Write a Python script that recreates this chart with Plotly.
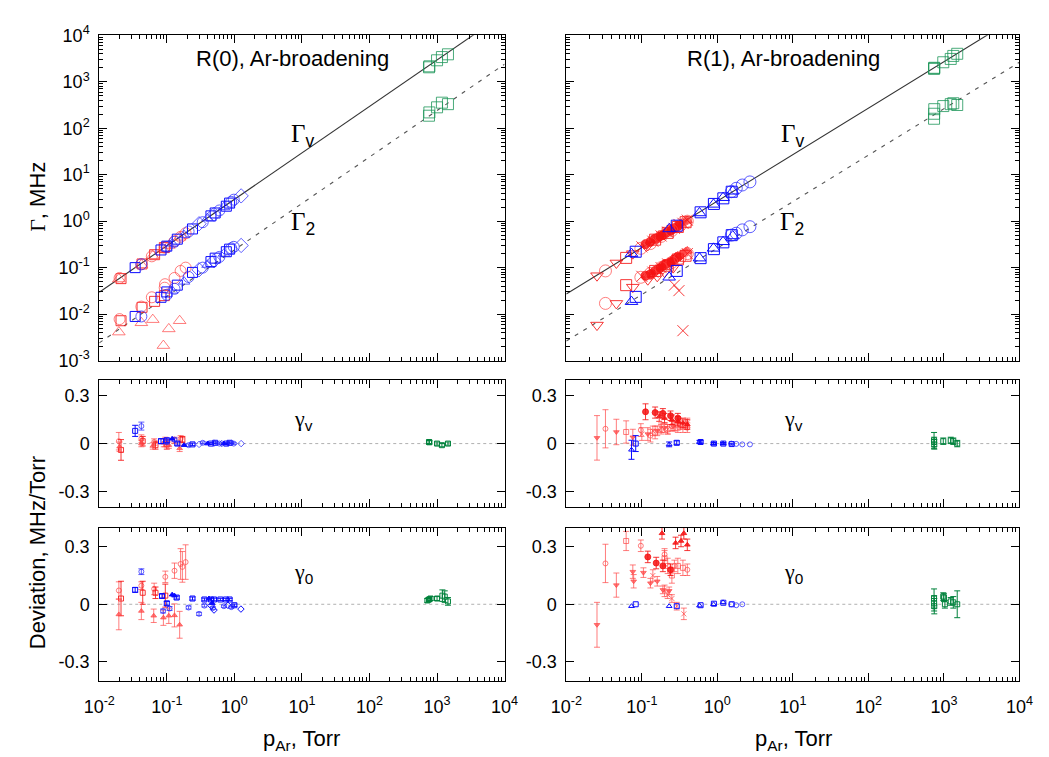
import plotly.graph_objects as go

# ================= DATA =================
# --- fitted lines: Gamma = coef * p ---
line_p = [1e-2, 1e4]
r0_coef_gv = 2.95
r0_coef_g2 = 0.24
r1_coef_gv = 2.7
r1_coef_g2 = 0.263

# --- R(0) top panel: pressure (Torr), Gamma_v, Gamma_2 (MHz) ---
r0_red_sq_p = [0.021, 0.043, 0.066, 0.092]
r0_red_sq_gv = [0.058, 0.12, 0.19, 0.27]
r0_red_sq_g2 = [0.0072, 0.014, 0.0188, 0.025]

r0_red_ci_p = [0.020, 0.042, 0.060, 0.093, 0.094, 0.13, 0.16, 0.19]
r0_red_ci_gv = [0.060, 0.118, 0.175, 0.27, 0.28, 0.37, 0.46, 0.55]
r0_red_ci_g2 = [0.0078, 0.0145, 0.023, 0.037, 0.044, 0.060, 0.085, 0.10]

r0_red_tr_p = [0.0195, 0.042, 0.062, 0.089, 0.107, 0.155]
r0_red_tr_gv = [0.057, 0.115, 0.18, 0.25, 0.30, 0.45]
r0_red_tr_g2 = [0.0041, 0.0065, 0.0076, 0.0021, 0.0048, 0.0072]

r0_blue_sq_p = [0.034, 0.082, 0.10, 0.143, 0.24, 0.45, 0.52, 0.76, 0.85]
r0_blue_sq_gv = [0.10, 0.24, 0.29, 0.41, 0.68, 1.3, 1.5, 2.1, 2.45]
r0_blue_sq_g2 = [0.0089, 0.023, 0.030, 0.042, 0.079, 0.135, 0.16, 0.22, 0.25]

r0_blue_ci_p = [0.042, 0.10, 0.13, 0.21, 0.34, 0.60, 0.90, 0.98]
r0_blue_ci_gv = [0.118, 0.28, 0.36, 0.60, 0.95, 1.7, 2.6, 2.9]
r0_blue_ci_g2 = [0.0089, 0.026, 0.035, 0.063, 0.10, 0.17, 0.26, 0.28]

r0_blue_di_p = [0.30, 0.50, 1.26]
r0_blue_di_gv = [0.88, 1.4, 3.5]
r0_blue_di_g2 = [0.09, 0.14, 0.30]

r0_blue_tr_p = [0.12, 0.18, 0.40, 0.70]
r0_blue_tr_gv = [0.33, 0.50, 1.15, 2.0]
r0_blue_tr_g2 = [0.032, 0.050, 0.115, 0.20]

r0_green_p = [760, 770, 1000, 1180, 1450]
r0_green_gv = [2050, 2150, 2900, 3400, 3900]
r0_green_g2 = [186, 219, 282, 355, 330]

# --- R(0) deviations gamma_v (MHz/Torr) ---
r0v_red_ci_p = [0.0195, 0.042, 0.065, 0.095, 0.13, 0.16]
r0v_red_ci_d = [0.015, 0.03, 0.01, 0.01, 0.02, 0.03]
r0v_red_ci_e = [0.055, 0.025, 0.02, 0.03, 0.02, 0.02]
r0v_red_sq_p = [0.021, 0.044, 0.068, 0.10, 0.17]
r0v_red_sq_d = [-0.04, 0.015, -0.01, -0.005, 0.025]
r0v_red_sq_e = [0.065, 0.03, 0.025, 0.03, 0.02]
r0v_red_tr_p = [0.020, 0.042, 0.062, 0.090, 0.107, 0.155]
r0v_red_tr_d = [-0.02, 0.0, -0.015, 0.005, -0.01, -0.03]
r0v_red_tr_e = [0.03, 0.02, 0.02, 0.025, 0.02, 0.02]
r0v_blue_sq_p = [0.034, 0.082, 0.10, 0.143, 0.24, 0.45, 0.52, 0.76, 0.85]
r0v_blue_sq_d = [0.08, 0.015, 0.02, 0.0, -0.005, 0.0, 0.005, 0.0, 0.005]
r0v_blue_sq_e = [0.035, 0.015, 0.015, 0.01, 0.008, 0.006, 0.006, 0.005, 0.005]
r0v_blue_ci_p = [0.042, 0.10, 0.13, 0.21, 0.34, 0.60, 0.90, 0.98]
r0v_blue_ci_d = [0.11, 0.01, 0.025, -0.01, 0.005, 0.0, 0.005, 0.0]
r0v_blue_ci_e = [0.025, 0.012, 0.01, 0.008, 0.006, 0.005, 0.005, 0.005]
r0v_blue_di_p = [0.30, 0.50, 0.65, 1.26]
r0v_blue_di_d = [-0.005, 0.003, 0.0, 0.0]
r0v_blue_tr_p = [0.12, 0.18, 0.40, 0.70]
r0v_blue_tr_d = [0.03, -0.01, 0.0, 0.0]
r0v_green_p = [760, 770, 1000, 1180, 1450]
r0v_green_d = [0.01, 0.008, 0.0, -0.01, 0.0]
r0v_green_e = [0.01, 0.01, 0.01, 0.01, 0.01]

# --- R(0) deviations gamma_0 ---
r00_red_ci_p = [0.0195, 0.042, 0.065, 0.095, 0.13, 0.16, 0.17, 0.19]
r00_red_ci_d = [0.072, 0.097, 0.08, 0.143, 0.175, 0.21, 0.195, 0.22]
r00_red_ci_e = [0.045, 0.02, 0.03, 0.03, 0.04, 0.08, 0.08, 0.09]
r00_red_sq_p = [0.021, 0.044, 0.068, 0.095]
r00_red_sq_d = [0.03, 0.06, 0.06, 0.045]
r00_red_sq_e = [0.09, 0.06, 0.03, 0.06]
r00_red_tr_p = [0.0195, 0.042, 0.064, 0.089, 0.107, 0.13, 0.155]
r00_red_tr_d = [-0.053, -0.035, -0.06, -0.07, -0.06, -0.058, -0.107]
r00_red_tr_e = [0.08, 0.045, 0.035, 0.04, 0.04, 0.06, 0.07]
r00_blue_sq_p = [0.034, 0.085, 0.10, 0.14, 0.24, 0.36, 0.45, 0.50, 0.62, 0.75, 0.85, 1.0]
r00_blue_sq_d = [0.075, 0.043, 0.005, 0.035, 0.03, 0.025, 0.025, 0.025, 0.025, 0.025, 0.025, -0.005]
r00_blue_sq_e = [0.012, 0.01, 0.01, 0.008, 0.008, 0.007, 0.007, 0.007, 0.006, 0.006, 0.006, 0.006]
r00_blue_ci_p = [0.042, 0.088, 0.11, 0.21, 0.30, 0.36, 0.48, 0.70, 0.90]
r00_blue_ci_d = [0.17, -0.035, -0.022, -0.017, -0.05, -0.007, -0.02, -0.01, -0.015]
r00_blue_ci_e = [0.015, 0.01, 0.01, 0.008, 0.008, 0.007, 0.007, 0.006, 0.006]
r00_blue_di_p = [0.45, 0.50, 0.80, 1.25]
r00_blue_di_d = [-0.007, -0.03, -0.005, -0.025]
r00_blue_tr_p = [0.12, 0.13, 0.42, 0.47]
r00_blue_tr_d = [0.05, 0.045, 0.03, 0.005]
r00_green_p = [720, 760, 800, 1000, 1200, 1300, 1450]
r00_green_d = [0.02, 0.025, 0.03, 0.03, 0.045, 0.04, 0.015]
r00_green_e = [0.01, 0.01, 0.01, 0.01, 0.03, 0.03, 0.02]

# --- R(1) top panel ---
r1_red_dt_p = [0.0255, 0.046, 0.076, 0.12, 0.16, 0.20, 0.26]
r1_red_dt_gv = [0.067, 0.126, 0.20, 0.30, 0.42, 0.53, 0.70]
r1_red_dt_g2 = [0.0058, 0.017, 0.038, 0.055, 0.065, 0.08, 0.10]

r1_red_ci_p = [0.033, 0.097, 0.13, 0.18, 0.25, 0.32, 0.40]
r1_red_ci_gv = [0.085, 0.26, 0.33, 0.47, 0.63, 0.80, 1.0]
r1_red_ci_g2 = [0.017, 0.062, 0.075, 0.10, 0.13, 0.16, 0.20]

r1_red_sq_p = [0.062, 0.15, 0.22, 0.30, 0.38]
r1_red_sq_gv = [0.162, 0.40, 0.56, 0.75, 0.95]
r1_red_sq_g2 = [0.042, 0.085, 0.11, 0.15, 0.18]

r1_red_fc_p = [0.112, 0.13, 0.15, 0.17, 0.19, 0.21, 0.24, 0.27, 0.30]
r1_red_fc_gv = [0.32, 0.36, 0.42, 0.46, 0.50, 0.56, 0.62, 0.70, 0.78]
r1_red_fc_g2 = [0.067, 0.072, 0.085, 0.095, 0.11, 0.12, 0.13, 0.15, 0.17]

r1_red_ft_p = [0.15, 0.17, 0.20, 0.22, 0.25, 0.28, 0.30, 0.33, 0.35, 0.38, 0.40]
r1_red_ft_gv = [0.40, 0.46, 0.55, 0.60, 0.68, 0.75, 0.82, 0.88, 0.95, 1.0, 1.05]
r1_red_ft_g2 = [0.085, 0.10, 0.12, 0.13, 0.15, 0.17, 0.18, 0.19, 0.20, 0.22, 0.23]

r1_red_x_p = [0.10, 0.14, 0.18, 0.22, 0.27, 0.31, 0.35, 0.40]
r1_red_x_gv = [0.28, 0.37, 0.48, 0.58, 0.70, 0.85, 0.90, 1.05]
r1_red_x_g2 = [0.065, 0.08, 0.10, 0.12, 0.042, 0.032, 0.0044, 0.20]

r1_blue_tr_p = [0.073, 0.23, 0.58, 0.89, 1.19, 1.6]
r1_blue_tr_gv = [0.20, 0.68, 1.5, 2.3, 3.2, 4.4]
r1_blue_tr_g2 = [0.0185, 0.062, 0.16, 0.26, 0.36, 0.48]

r1_blue_sq_p = [0.083, 0.29, 0.60, 0.90, 1.20, 1.55]
r1_blue_sq_gv = [0.22, 0.80, 1.55, 2.35, 3.1, 4.3]
r1_blue_sq_g2 = [0.0235, 0.085, 0.16, 0.25, 0.35, 0.50]

r1_blue_ci_p = [1.53, 1.78, 2.14, 2.70]
r1_blue_ci_gv = [4.3, 5.1, 6.0, 7.0]
r1_blue_ci_g2 = [0.50, 0.55, 0.65, 0.76]

r1_green_p = [740, 742, 745, 980, 1230, 1330, 1500]
r1_green_gv = [1900, 1950, 2000, 2630, 3100, 3600, 4000]
r1_green_g2 = [160, 205, 257, 300, 330, 345, 316]

# --- R(1) deviations gamma_v ---
r1v_red_dt_p = [0.0255, 0.046, 0.076, 0.12, 0.16, 0.20, 0.26]
r1v_red_dt_d = [0.036, 0.073, 0.04, 0.06, 0.08, 0.10, 0.11]
r1v_red_dt_e = [0.14, 0.08, 0.05, 0.04, 0.03, 0.03, 0.03]
r1v_red_ci_p = [0.033, 0.097, 0.13, 0.18, 0.25, 0.32, 0.40]
r1v_red_ci_d = [0.093, 0.085, 0.05, 0.09, 0.11, 0.12, 0.10]
r1v_red_ci_e = [0.12, 0.04, 0.04, 0.03, 0.03, 0.03, 0.03]
r1v_red_sq_p = [0.062, 0.15, 0.22, 0.30, 0.38]
r1v_red_sq_d = [0.073, 0.07, 0.09, 0.10, 0.12]
r1v_red_sq_e = [0.07, 0.04, 0.03, 0.03, 0.03]
r1v_red_fc_p = [0.112, 0.15, 0.19, 0.24, 0.30]
r1v_red_fc_d = [0.20, 0.195, 0.19, 0.175, 0.16]
r1v_red_fc_e = [0.05, 0.035, 0.03, 0.03, 0.03]
r1v_red_ft_p = [0.17, 0.20, 0.25, 0.30, 0.35, 0.40]
r1v_red_ft_d = [0.17, 0.16, 0.15, 0.14, 0.13, 0.12]
r1v_red_ft_e = [0.03, 0.03, 0.03, 0.03, 0.03, 0.03]
r1v_red_x_p = [0.10, 0.14, 0.18, 0.22, 0.27, 0.31, 0.35, 0.40]
r1v_red_x_d = [0.06, 0.08, 0.10, 0.09, 0.11, 0.13, 0.10, 0.13]
r1v_red_x_e = [0.04, 0.03, 0.03, 0.03, 0.03, 0.03, 0.03, 0.03]
r1v_blue_tr_p = [0.073, 0.23, 0.58, 0.89, 1.19]
r1v_blue_tr_d = [-0.039, -0.005, 0.01, 0.0, 0.0]
r1v_blue_tr_e = [0.06, 0.015, 0.01, 0.008, 0.006]
r1v_blue_sq_p = [0.083, 0.29, 0.60, 0.90, 1.20, 1.55]
r1v_blue_sq_d = [0.0, 0.005, 0.01, 0.0, 0.0, -0.003]
r1v_blue_sq_e = [0.05, 0.012, 0.008, 0.006, 0.005, 0.005]
r1v_blue_ci_p = [1.53, 1.78, 2.14, 2.70]
r1v_blue_ci_d = [0.0, -0.002, -0.005, -0.005]
r1v_green_p = [740, 742, 745, 980, 1230, 1330, 1500]
r1v_green_d = [0.02, 0.01, -0.005, 0.015, 0.02, 0.015, 0.0]
r1v_green_e = [0.05, 0.03, 0.03, 0.02, 0.02, 0.02, 0.02]

# --- R(1) deviations gamma_0 ---
r10_red_dt_p = [0.0255, 0.046, 0.076, 0.078, 0.105, 0.13, 0.16, 0.19, 0.23]
r10_red_dt_d = [-0.107, 0.10, 0.17, 0.12, 0.165, 0.11, 0.12, 0.075, 0.07]
r10_red_dt_e = [0.117, 0.063, 0.035, 0.035, 0.025, 0.025, 0.025, 0.02, 0.02]
r10_red_ci_p = [0.033, 0.097, 0.20, 0.27, 0.40]
r10_red_ci_d = [0.213, 0.305, 0.26, 0.20, 0.18]
r10_red_ci_e = [0.10, 0.03, 0.03, 0.03, 0.03]
r10_red_sq_p = [0.062, 0.20, 0.22, 0.25, 0.30, 0.35]
r10_red_sq_d = [0.33, 0.24, 0.20, 0.15, 0.20, 0.19]
r10_red_sq_e = [0.05, 0.04, 0.04, 0.04, 0.04, 0.04]
r10_red_fc_p = [0.12, 0.155, 0.19, 0.24]
r10_red_fc_d = [0.247, 0.215, 0.20, 0.18]
r10_red_fc_e = [0.03, 0.03, 0.03, 0.03]
r10_red_ft_p = [0.185, 0.28, 0.33, 0.36, 0.40]
r10_red_ft_d = [0.37, 0.32, 0.33, 0.37, 0.31]
r10_red_ft_e = [0.03, 0.03, 0.03, 0.03, 0.03]
r10_red_x_p = [0.14, 0.20, 0.22, 0.25, 0.29, 0.36]
r10_red_x_d = [0.15, 0.07, 0.05, 0.03, -0.01, -0.05]
r10_red_x_e = [0.03, 0.03, 0.02, 0.02, 0.02, 0.03]
r10_blue_tr_p = [0.073, 0.23, 0.58, 0.89, 1.19]
r10_blue_tr_d = [-0.01, -0.01, -0.007, 0.0, 0.01]
r10_blue_sq_p = [0.083, 0.29, 0.60, 0.90, 1.20, 1.55]
r10_blue_sq_d = [0.0, -0.01, -0.005, 0.003, 0.008, 0.0]
r10_blue_ci_p = [1.53, 1.78, 2.14]
r10_blue_ci_d = [0.0, -0.005, 0.0]
r10_green_p = [740, 742, 745, 980, 1000, 1030, 1230, 1330, 1500]
r10_green_d = [0.03, 0.005, -0.01, 0.04, 0.035, 0.0, 0.015, 0.01, 0.0]
r10_green_e = [0.05, 0.04, 0.04, 0.02, 0.02, 0.02, 0.02, 0.03, 0.07]

# --- axis ticks ---
x_major = [1e-2, 1e-1, 1e0, 1e1, 1e2, 1e3, 1e4]
x_major_text = ["10<sup>-2</sup>", "10<sup>-1</sup>", "10<sup>0</sup>", "10<sup>1</sup>",
                "10<sup>2</sup>", "10<sup>3</sup>", "10<sup>4</sup>"]
y_major = [1e-3, 1e-2, 1e-1, 1e0, 1e1, 1e2, 1e3, 1e4]
y_major_text = ["10<sup>-3</sup>", "10<sup>-2</sup>", "10<sup>-1</sup>", "10<sup>0</sup>",
                "10<sup>1</sup>", "10<sup>2</sup>", "10<sup>3</sup>", "10<sup>4</sup>"]
dev_ticks = [-0.3, 0, 0.3]
dev_ticks_text = ["-0.3", "0", "0.3"]

# ================= STYLE =================
RED = "rgba(245,20,20,0.85)"
RED_L = "rgba(255,70,70,0.7)"
BLUE = "rgb(10,10,255)"
BLUE_L = "rgba(40,40,255,0.75)"
GREEN = "rgb(0,130,60)"
GREEN_L = "rgba(30,150,90,0.8)"
FONT = "Liberation Sans"
SERIF = "Liberation Serif"

fig = go.Figure()


def add(ax, p, y, symbol, color, size, err=None, lw=1.0):
    xa, ya = ax
    tr = dict(x=p, y=y, mode="markers", xaxis=xa, yaxis=ya, showlegend=False,
              marker=dict(symbol=symbol, size=size, color=color,
                          line=dict(color=color, width=lw)))
    if err is not None:
        tr["error_y"] = dict(type="data", array=err, visible=True, color=color,
                             thickness=1, width=3)
    fig.add_trace(go.Scatter(**tr))


TL, ML, BL, TR, MR, BR = ("x", "y"), ("x2", "y2"), ("x3", "y3"), ("x4", "y4"), ("x5", "y5"), ("x6", "y6")

# fitted lines
for ax, cv, c2 in [(TL, r0_coef_gv, r0_coef_g2), (TR, r1_coef_gv, r1_coef_g2)]:
    fig.add_trace(go.Scatter(x=line_p, y=[cv * p for p in line_p], mode="lines",
                             xaxis=ax[0], yaxis=ax[1], showlegend=False,
                             line=dict(color="#333333", width=1.1)))
    fig.add_trace(go.Scatter(x=line_p, y=[c2 * p for p in line_p], mode="lines",
                             xaxis=ax[0], yaxis=ax[1], showlegend=False,
                             line=dict(color="#555555", width=1.1, dash="4px,6px")))

S = 10
# R(0) top
for yk in ["gv", "g2"]:
    add(TL, r0_red_sq_p, globals()["r0_red_sq_" + yk], "square-open", RED, S)
    add(TL, r0_red_ci_p, globals()["r0_red_ci_" + yk], "circle-open", RED_L, S + 1)
    add(TL, r0_red_tr_p, globals()["r0_red_tr_" + yk], "triangle-up-open", RED_L, S + 1)
    add(TL, r0_blue_sq_p, globals()["r0_blue_sq_" + yk], "square-open", BLUE, S)
    add(TL, r0_blue_ci_p, globals()["r0_blue_ci_" + yk], "circle-open", BLUE_L, S + 1)
    add(TL, r0_blue_di_p, globals()["r0_blue_di_" + yk], "diamond-open", BLUE_L, S + 1)
    add(TL, r0_blue_tr_p, globals()["r0_blue_tr_" + yk], "triangle-up-open", BLUE_L, S)
    add(TL, r0_green_p, globals()["r0_green_" + yk], "square-open", GREEN_L, S + 1)

# R(1) top
for yk in ["gv", "g2"]:
    add(TR, r1_red_ft_p, globals()["r1_red_ft_" + yk], "triangle-up", RED_L, S - 1)
    add(TR, r1_red_x_p, globals()["r1_red_x_" + yk], "x-thin-open", RED, S + 1)
    add(TR, r1_red_fc_p, globals()["r1_red_fc_" + yk], "circle", RED, S - 1)
    add(TR, r1_red_dt_p, globals()["r1_red_dt_" + yk], "triangle-down-open", RED, S + 1)
    add(TR, r1_red_ci_p, globals()["r1_red_ci_" + yk], "circle-open", RED_L, S + 2)
    add(TR, r1_red_sq_p, globals()["r1_red_sq_" + yk], "square-open", RED, S + 1)
    add(TR, r1_blue_tr_p, globals()["r1_blue_tr_" + yk], "triangle-up-open", BLUE, S + 1)
    add(TR, r1_blue_sq_p, globals()["r1_blue_sq_" + yk], "square-open", BLUE, S + 1)
    add(TR, r1_blue_ci_p, globals()["r1_blue_ci_" + yk], "circle-open", BLUE_L, S + 2)
    add(TR, r1_green_p, globals()["r1_green_" + yk], "square-open", GREEN_L, S + 1)

s = 5
# R(0) gamma_v deviations
add(ML, r0v_red_ci_p, r0v_red_ci_d, "circle-open", RED_L, s, r0v_red_ci_e)
add(ML, r0v_red_sq_p, r0v_red_sq_d, "square-open", RED, s, r0v_red_sq_e)
add(ML, r0v_red_tr_p, r0v_red_tr_d, "triangle-up", RED_L, s, r0v_red_tr_e)
add(ML, r0v_blue_sq_p, r0v_blue_sq_d, "square-open", BLUE, s, r0v_blue_sq_e)
add(ML, r0v_blue_ci_p, r0v_blue_ci_d, "circle-open", BLUE_L, s, r0v_blue_ci_e)
add(ML, r0v_blue_di_p, r0v_blue_di_d, "diamond-open", BLUE_L, s)
add(ML, r0v_blue_tr_p, r0v_blue_tr_d, "triangle-up", BLUE, s)
add(ML, r0v_green_p, r0v_green_d, "square-open", GREEN, s, r0v_green_e)

# R(0) gamma_0 deviations
add(BL, r00_red_ci_p, r00_red_ci_d, "circle-open", RED_L, s, r00_red_ci_e)
add(BL, r00_red_sq_p, r00_red_sq_d, "square-open", RED, s, r00_red_sq_e)
add(BL, r00_red_tr_p, r00_red_tr_d, "triangle-up", RED_L, s, r00_red_tr_e)
add(BL, r00_blue_sq_p, r00_blue_sq_d, "square-open", BLUE, s, r00_blue_sq_e)
add(BL, r00_blue_ci_p, r00_blue_ci_d, "circle-open", BLUE_L, s, r00_blue_ci_e)
add(BL, r00_blue_di_p, r00_blue_di_d, "diamond-open", BLUE, s)
add(BL, r00_blue_tr_p, r00_blue_tr_d, "triangle-up", BLUE, s)
add(BL, r00_green_p, r00_green_d, "square-open", GREEN, s, r00_green_e)

# R(1) gamma_v deviations
add(MR, r1v_red_dt_p, r1v_red_dt_d, "triangle-down", RED_L, s, r1v_red_dt_e)
add(MR, r1v_red_ci_p, r1v_red_ci_d, "circle-open", RED_L, s, r1v_red_ci_e)
add(MR, r1v_red_sq_p, r1v_red_sq_d, "square-open", RED_L, s, r1v_red_sq_e)
add(MR, r1v_red_x_p, r1v_red_x_d, "x-thin-open", RED_L, s, r1v_red_x_e)
add(MR, r1v_red_ft_p, r1v_red_ft_d, "triangle-up", RED, s, r1v_red_ft_e)
add(MR, r1v_red_fc_p, r1v_red_fc_d, "circle", RED, s + 1, r1v_red_fc_e)
add(MR, r1v_blue_tr_p, r1v_blue_tr_d, "triangle-up-open", BLUE, s, r1v_blue_tr_e)
add(MR, r1v_blue_sq_p, r1v_blue_sq_d, "square-open", BLUE, s, r1v_blue_sq_e)
add(MR, r1v_blue_ci_p, r1v_blue_ci_d, "circle-open", BLUE_L, s)
add(MR, r1v_green_p, r1v_green_d, "square-open", GREEN, s, r1v_green_e)

# R(1) gamma_0 deviations
add(BR, r10_red_dt_p, r10_red_dt_d, "triangle-down", RED_L, s, r10_red_dt_e)
add(BR, r10_red_ci_p, r10_red_ci_d, "circle-open", RED_L, s, r10_red_ci_e)
add(BR, r10_red_sq_p, r10_red_sq_d, "square-open", RED_L, s, r10_red_sq_e)
add(BR, r10_red_x_p, r10_red_x_d, "x-thin-open", RED_L, s, r10_red_x_e)
add(BR, r10_red_ft_p, r10_red_ft_d, "triangle-up", RED, s, r10_red_ft_e)
add(BR, r10_red_fc_p, r10_red_fc_d, "circle", RED, s + 1, r10_red_fc_e)
add(BR, r10_blue_tr_p, r10_blue_tr_d, "triangle-up-open", BLUE, s)
add(BR, r10_blue_sq_p, r10_blue_sq_d, "square-open", BLUE, s)
add(BR, r10_blue_ci_p, r10_blue_ci_d, "circle-open", BLUE_L, s)
add(BR, r10_green_p, r10_green_d, "square-open", GREEN, s, r10_green_e)

# ================= LAYOUT =================
W, H = 1049, 757
XL = [85.7 / W, 503 / W]
XR = [566.5 / W, 1033 / W]
YT = [1 - 359 / H, 1 - 24 / H]
YM = [1 - 510 / H, 1 - 379 / H]
YB = [1 - 689 / H, 1 - 531 / H]

x_minor = [k * 10.0 ** d for d in range(-2, 4) for k in range(2, 10)]
y_minor = [k * 10.0 ** d for d in range(-3, 4) for k in range(2, 10)]

tickfont = dict(family=FONT, size=18, color="black")
common = dict(showline=True, linecolor="black", linewidth=1, mirror="allticks",
              ticks="inside", ticklen=8, tickcolor="black", showgrid=False,
              zeroline=False, tickfont=tickfont)


def xax(domain, anchor, labels):
    return dict(common, type="log", range=[-2, 4], domain=domain, anchor=anchor,
                tickmode="array", tickvals=x_major, ticktext=x_major_text,
                showticklabels=labels, ticklabelstandoff=9,
                minor=dict(tickmode="array", tickvals=x_minor, ticks="inside",
                           ticklen=4, tickcolor="black", showgrid=False))


def ylog(domain, anchor, labels):
    return dict(common, type="log", range=[-3, 4], domain=domain, anchor=anchor,
                tickmode="array", tickvals=y_major, ticktext=y_major_text,
                showticklabels=labels, ticklabelstandoff=5,
                minor=dict(tickmode="array", tickvals=y_minor, ticks="inside",
                           ticklen=4, tickcolor="black", showgrid=False))


def ydev(domain, anchor):
    return dict(common, range=[-0.4, 0.4], domain=domain, anchor=anchor,
                tickmode="array", tickvals=dev_ticks, ticktext=dev_ticks_text,
                ticklabelstandoff=5)


fig.update_layout(
    width=W, height=H, margin=dict(l=0, r=0, t=0, b=0),
    paper_bgcolor="white", plot_bgcolor="white",
    font=dict(family=FONT, size=18, color="black"),
    xaxis=xax(XL, "y", False), yaxis=ylog(YT, "x", True),
    xaxis2=xax(XL, "y2", False), yaxis2=ydev(YM, "x2"),
    xaxis3=xax(XL, "y3", True), yaxis3=ydev(YB, "x3"),
    xaxis4=xax(XR, "y4", False), yaxis4=ylog(YT, "x4", False),
    xaxis5=xax(XR, "y5", False), yaxis5=ydev(YM, "x5"),
    xaxis6=xax(XR, "y6", True), yaxis6=ydev(YB, "x6"),
)

# dotted zero lines
for xa, ya in [ML, BL, MR, BR]:
    fig.add_shape(type="line", xref=xa + " domain", yref=ya, x0=0, x1=1, y0=0, y1=0,
                  line=dict(color="#b0b0b0", width=1, dash="dot"), layer="below")


def ann(x, y, text, size=20, angle=0):
    fig.add_annotation(x=x / W, y=1 - y / H, xref="paper", yref="paper", text=text,
                       showarrow=False, xanchor="center", yanchor="middle",
                       textangle=angle, font=dict(family=FONT, size=size, color="black"))


G = '<span style="font-family:%s">%s</span>'
ann(285, 48, "R(0), Ar-broadening", 22)
ann(790, 48, "R(1), Ar-broadening", 22)
for cx in (295, 799):
    ann(cx, 127, G % (SERIF, "Γ") + "<sub>v</sub>", 25)
    ann(cx, 218, G % (SERIF, "Γ") + "<sub>2</sub>", 25)
for cx in (296, 800):
    ann(cx, 420, G % (SERIF, "γ") + "<sub>v</sub>", 22)
    ann(cx, 578, G % (SERIF, "γ") + "<sub>0</sub>", 22)
ann(22, 190, G % (SERIF, "Γ") + ", MHz", 22, -90)
ann(22, 557, "Deviation, MHz/Torr", 22, -90)
ann(294, 750, "p<sub>Ar</sub>, Torr", 22)
ann(800, 750, "p<sub>Ar</sub>, Torr", 22)

fig.write_html("out.html")
